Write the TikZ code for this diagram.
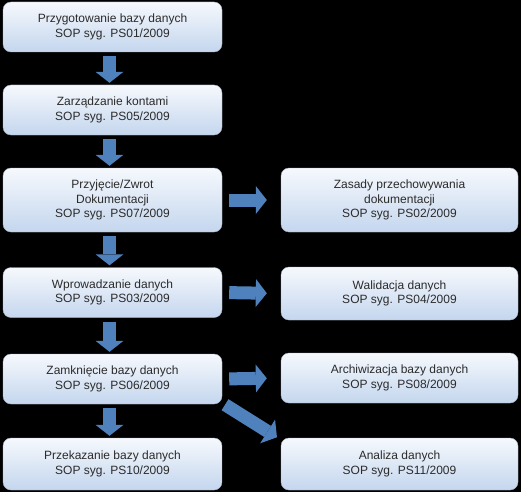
\documentclass[tikz,border=0pt]{standalone}
\usepackage{fontspec}
\setmainfont{Liberation Sans}
\usepackage{xcolor}
\usetikzlibrary{arrows.meta,positioning}

\definecolor{boxtop}{HTML}{F6F9FD}
\definecolor{boxbot}{HTML}{C4D6EE}
\definecolor{boxline}{HTML}{A9B6C8}
\definecolor{flowblue}{HTML}{4F81BD}
\definecolor{txt}{HTML}{2B2B2B}

\tikzset{
  sop/.style={draw=boxline, rounded corners=8pt, top color=boxtop, bottom color=boxbot,
    minimum height=50pt, align=center, text=txt, inner sep=2pt,
    font=\fontsize{12}{14.5}\selectfont},
  left/.style={sop, minimum width=219pt},
  right/.style={sop, minimum width=237pt},
  flow/.style={line width=13pt, draw=flowblue,
    -{Triangle[width=28pt,length=11pt,line width=0pt]}}
}

\begin{document}
\begin{tikzpicture}[x=1pt,y=-1pt]
\fill[black] (0,0) rectangle (521,492);
\useasboundingbox (0,0) rectangle (521,492);

% Draw left column
\node[left] (prz) at (112.5,27) {Przygotowanie bazy danych\\SOP syg. PS01/2009};
\node[left] (zar) at (112.5,110) {Zarządzanie kontami\\SOP syg. PS05/2009};
\node[left,minimum height=64pt] (pzd) at (112.5,200) {Przyjęcie/Zwrot\\Dokumentacji\\SOP syg. PS07/2009};
\node[left] (wpr) at (112.5,292.5) {Wprowadzanie danych\\SOP syg. PS03/2009};
\node[left] (zam) at (112.5,379) {Zamknięcie bazy danych\\SOP syg. PS06/2009};
\node[left,minimum height=52pt] (pbd) at (112.5,464) {Przekazanie bazy danych\\SOP syg. PS10/2009};

% Draw right column
\node[right,minimum height=64pt] (zas) at (399.5,200) {Zasady przechowywania\\dokumentacji\\SOP syg. PS02/2009};
\node[right,minimum height=53pt] (wal) at (399.5,293.5) {Walidacja danych\\SOP syg. PS04/2009};
\node[right] (arc) at (399.5,378) {Archiwizacja bazy danych\\SOP syg. PS08/2009};
\node[right,minimum height=52pt] (ana) at (399.5,464) {Analiza danych\\SOP syg. PS11/2009};

% Block arrows down
\foreach \a/\b in {prz/zar,zar/pzd,pzd/wpr,wpr/zam,zam/pbd}
  \draw[flow,shorten <=4pt,shorten >=2pt] ([xshift=-3pt]\a.south) -- ([xshift=-3pt]\b.north);

% Block arrows to the right
\foreach \a/\b in {pzd/zas,wpr/wal,zam/arc}
  \draw[flow,shorten <=7pt,shorten >=14pt] (\a.east) -- (\b.west);

\draw[flow,shorten <=1pt,shorten >=1pt] ([xshift=2pt]zam.south east) -- ([xshift=-3pt]ana.north west);
\end{tikzpicture}
\end{document}
